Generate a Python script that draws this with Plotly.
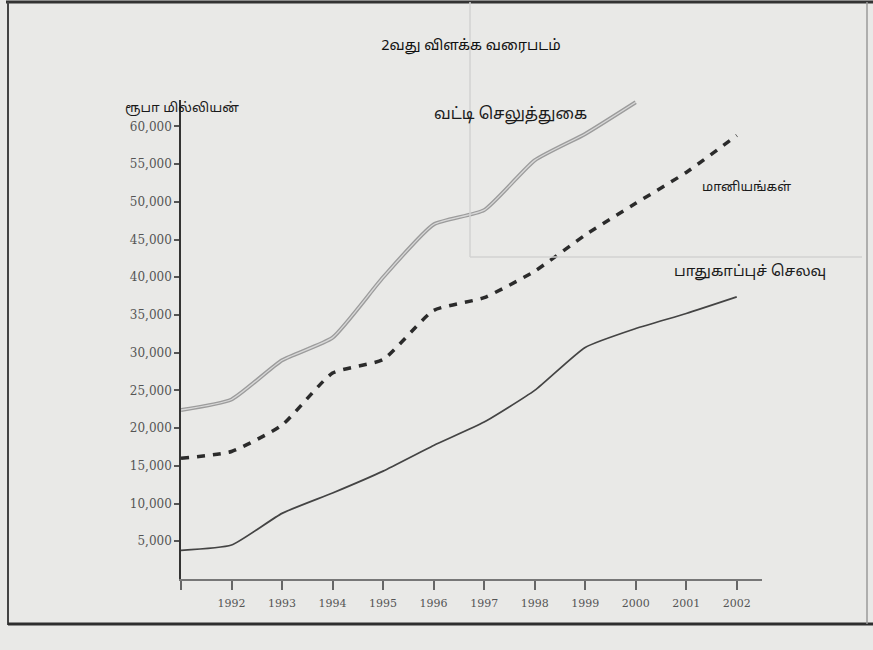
import plotly.graph_objects as go

years = [1991, 1992, 1993, 1994, 1995, 1996, 1997, 1998, 1999, 2000, 2001, 2002]
year_labels = ["", "1992", "1993", "1994", "1995", "1996", "1997", "1998", "1999", "2000", "2001", "2002"]

interest_years = [1991, 1992, 1993, 1994, 1995, 1996, 1997, 1998, 1999, 2000]
interest = [22400, 23800, 29000, 32000, 40000, 47000, 48900, 55500, 59000, 63200]

subsidies = [16000, 16900, 20400, 27300, 29100, 35600, 37300, 40800, 45600, 49800, 53900, 58800]
defence = [3800, 4500, 8700, 11400, 14300, 17700, 20800, 25000, 30700, 33200, 35200, 37400]

y_ticks = [5000, 10000, 15000, 20000, 25000, 30000, 35000, 40000, 45000, 50000, 55000, 60000]
y_tick_labels = ["5,000", "10,000", "15,000", "20,000", "25,000", "30,000",
                 "35,000", "40,000", "45,000", "50,000", "55,000", "60,000"]

title_text = "2வது விளக்க வரைபடம்"
y_title = "ரூபா மில்லியன்"
label_interest = "வட்டி செலுத்துகை"
label_subsidies = "மானியங்கள்"
label_defence = "பாதுகாப்புச் செலவு"

W, H = 873, 650
L, R, T, B = 181, 762, 100, 579


def px(x):
    return (x - L) / (R - L)


def py(y):
    return (B - y) / (B - T)


TAMIL = "Noto Sans Tamil, Latha, Noto Sans, sans-serif"
NUM = "DejaVu Serif, Liberation Serif, serif"

fig = go.Figure()
fig.add_trace(go.Scatter(x=interest_years, y=interest, mode="lines",
                         line=dict(color="#9c9c9c", width=4, shape="spline", smoothing=0.5),
                         hoverinfo="skip", showlegend=False))
fig.add_trace(go.Scatter(x=interest_years, y=interest, mode="lines",
                         line=dict(color="#d8d8d8", width=1.3, shape="spline", smoothing=0.5),
                         hoverinfo="skip", showlegend=False))
fig.add_trace(go.Scatter(x=years, y=subsidies, mode="lines",
                         line=dict(color="#2b2b2b", width=3.5, dash="8px,8px", shape="spline", smoothing=0.5),
                         showlegend=False))
fig.add_trace(go.Scatter(x=years, y=defence, mode="lines",
                         line=dict(color="#444444", width=1.7, shape="spline", smoothing=0.5),
                         showlegend=False))

shapes = [
    # page frame (scan)
    dict(type="line", xref="paper", yref="paper", x0=px(6), x1=px(873), y0=py(2), y1=py(2),
         line=dict(color="#333333", width=3)),
    dict(type="line", xref="paper", yref="paper", x0=px(8), x1=px(8), y0=py(2), y1=py(625),
         line=dict(color="#444444", width=2)),
    dict(type="line", xref="paper", yref="paper", x0=px(8), x1=px(873), y0=py(624), y1=py(624),
         line=dict(color="#2e2e2e", width=3)),
    dict(type="line", xref="paper", yref="paper", x0=px(867), x1=px(867), y0=py(2), y1=py(624),
         line=dict(color="#9a9a9a", width=1.5)),
    # faint bleed-through box
    dict(type="line", xref="paper", yref="paper", x0=px(470), x1=px(470), y0=py(2), y1=py(257),
         line=dict(color="#d2d2d2", width=1.5)),
    dict(type="line", xref="paper", yref="paper", x0=px(470), x1=px(862), y0=py(257), y1=py(257),
         line=dict(color="#d2d2d2", width=1.5)),
]

annotations = [
    dict(text=y_title, xref="paper", yref="paper", x=px(123), y=py(109), xanchor="left", yanchor="middle",
         showarrow=False, font=dict(family=TAMIL, size=13.5, color="#1a1a1a")),
    dict(text=label_interest, xref="paper", yref="paper", x=px(432), y=py(115), xanchor="left", yanchor="middle",
         showarrow=False, font=dict(family=TAMIL, size=16, color="#1a1a1a")),
    dict(text=label_subsidies, xref="paper", yref="paper", x=px(700), y=py(188), xanchor="left", yanchor="middle",
         showarrow=False, font=dict(family=TAMIL, size=13, color="#1a1a1a")),
    dict(text=label_defence, xref="paper", yref="paper", x=px(672), y=py(272), xanchor="left", yanchor="middle",
         showarrow=False, font=dict(family=TAMIL, size=15, color="#1a1a1a")),
]

fig.update_layout(
    width=W, height=H,
    margin=dict(l=L, r=W - R, t=T, b=H - B, autoexpand=False),
    paper_bgcolor="#e9e9e7",
    plot_bgcolor="rgba(0,0,0,0)",
    title=dict(text=title_text, x=471 / W, xanchor="center", y=1 - 45 / H, yanchor="middle",
               font=dict(family=TAMIL, size=14.5, color="#111111")),
    shapes=shapes,
    annotations=annotations,
    xaxis=dict(range=[1991.0, 2002.5], tickvals=years, ticktext=year_labels,
               showgrid=False, zeroline=False, showline=True, linecolor="#777777", linewidth=2,
               ticks="outside", ticklen=9, tickwidth=1.5, tickcolor="#666666",
               ticklabelstandoff=4,
               tickfont=dict(family=NUM, size=11, color="#555555")),
    yaxis=dict(range=[0, 63500], tickvals=y_ticks, ticktext=y_tick_labels,
               showgrid=False, zeroline=False, showline=True, linecolor="#333333", linewidth=1.5,
               ticks="outside", ticklen=5, tickwidth=1.5, tickcolor="#555555",
               tickfont=dict(family=NUM, size=12, color="#555555")),
)

fig.write_html("out.html", config={"displayModeBar": False},
               post_script="document.body.style.margin='0';document.body.style.background='#e9e9e7';")
